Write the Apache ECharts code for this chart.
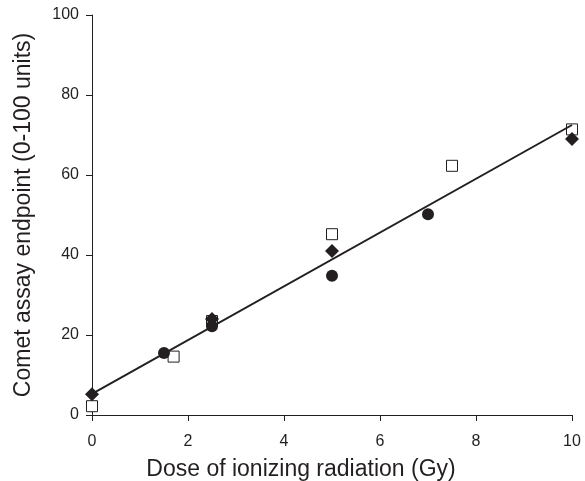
<!DOCTYPE html>
<html>
<head>
<meta charset="utf-8">
<script src="https://cdn.jsdelivr.net/npm/echarts@6/dist/echarts.min.js"></script>
<style>
  html, body { margin: 0; padding: 0; background: #fff; }
  #chart { width: 585px; height: 481px; }
</style>
</head>
<body>
<div id="chart"></div>
<script>
// dose (Gy) and comet assay values
const diamondPts = [[0, 5.2], [2.5, 24], [5, 41], [10, 69]]
const circlePts = [[1.5, 15.5], [2.5, 22.2], [5, 34.8], [7, 50.2]]
const squarePts = [[0, 2.2], [1.7, 14.6], [2.5, 23.5], [5, 45.2], [7.5, 62.3], [10, 71.4]]
// regression line end points
const fitLine = [[0, 5.3], [10, 72.5]]

const xTicks = [0, 2, 4, 6, 8, 10]
const yTicks = [0, 20, 40, 60, 80, 100]

const fontFamily = 'Liberation Sans, Arial, sans-serif'
const ink = '#231f20'

const chart = echarts.init(document.getElementById('chart'))

chart.setOption({
  animation: false,
  grid: { left: 92, right: 13, top: 15, bottom: 66, containLabel: false, outerBoundsMode: 'none' },
  xAxis: {
    type: 'value',
    min: xTicks[0],
    max: xTicks[xTicks.length - 1],
    interval: 2,
    name: 'Dose of ionizing radiation (Gy)',
    nameLocation: 'middle',
    nameGap: 43,
    nameTextStyle: { fontFamily, fontSize: 23, color: ink, padding: [0, 62, 0, 0] },
    axisLine: { lineStyle: { color: ink, width: 1 } },
    axisTick: { show: true, length: 6, lineStyle: { color: ink } },
    axisLabel: { fontFamily, fontSize: 16, color: ink, margin: 19 },
    splitLine: { show: false }
  },
  yAxis: {
    type: 'value',
    min: yTicks[0],
    max: yTicks[yTicks.length - 1],
    interval: 20,
    name: 'Comet assay endpoint (0-100 units)',
    nameLocation: 'middle',
    nameGap: 57,
    nameTextStyle: { fontFamily, fontSize: 23, color: ink },
    axisLine: { show: true, lineStyle: { color: ink, width: 1 } },
    axisTick: { show: true, length: 6, lineStyle: { color: ink } },
    axisLabel: { fontFamily, fontSize: 16, color: ink, margin: 13 },
    splitLine: { show: false }
  },
  series: [
    {
      name: 'fit',
      type: 'line',
      data: fitLine,
      showSymbol: false,
      lineStyle: { color: ink, width: 2 },
      z: 5
    },
    {
      name: 'square',
      type: 'scatter',
      data: squarePts,
      symbol: 'rect',
      symbolSize: 11,
      itemStyle: { color: '#fff', borderColor: ink, borderWidth: 1, opacity: 1 },
      z: 2
    },
    {
      name: 'circle',
      type: 'scatter',
      data: circlePts,
      symbol: 'circle',
      symbolSize: 12,
      itemStyle: { color: ink, opacity: 1 },
      z: 3
    },
    {
      name: 'diamond',
      type: 'scatter',
      data: diamondPts,
      symbol: 'diamond',
      symbolSize: 14,
      itemStyle: { color: ink, opacity: 1 },
      z: 4
    }
  ]
})
</script>
</body>
</html>
